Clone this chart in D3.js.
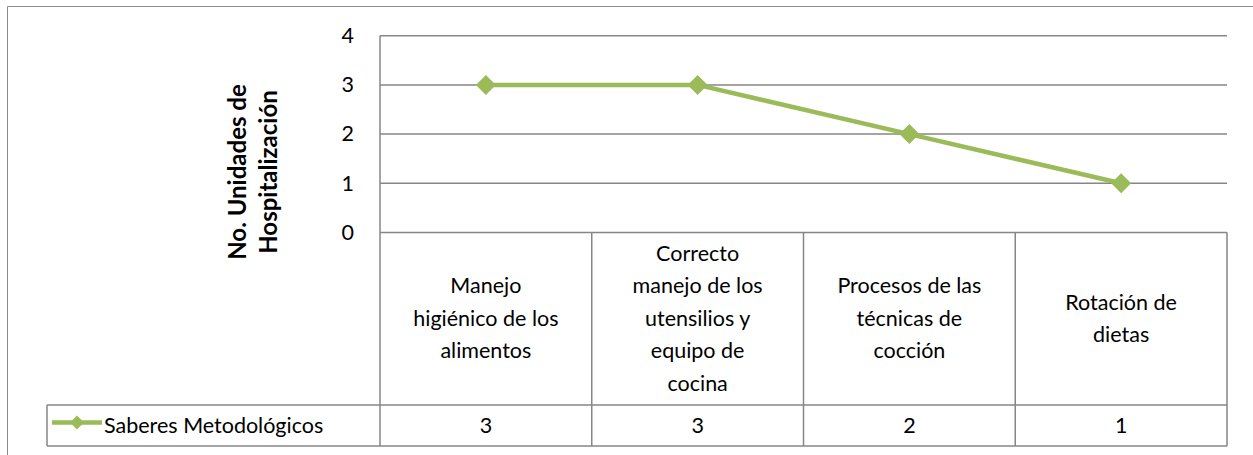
<!DOCTYPE html>
<html>
<head>
<meta charset="utf-8">
<script src="https://cdn.jsdelivr.net/npm/d3@7"></script>
<style>
body { margin: 0; background: #fff; }
text { font-family: Lato, "Open Sans", sans-serif; fill: #000; }
</style>
</head>
<body>
<script>
var width = 1253, height = 455;

// data
var categories = ['Manejo\nhigiénico de los\nalimentos',
                  'Correcto\nmanejo de los\nutensilios y\nequipo de\ncocina',
                  'Procesos de las\ntécnicas de\ncocción',
                  'Rotación de\ndietas'];
var values = [3, 3, 2, 1];
var seriesName = 'Saberes Metodológicos';
var yTicks = [0, 1, 2, 3, 4];
var yTitle = ['No. Unidades de', 'Hospitalización'];

var plot_left = 380, plot_right = 1227, plot_top = 35.7, plot_bottom = 232.5;
var row_top = 405, row_bottom = 446, legend_left = 47;
var grid_color = '#868686', line_color = '#9BBB59';
var fs = 21.5;

var svg = d3.select('body').append('svg').attr('width', width).attr('height', height);

// outer chart border
svg.append('path')
	.attr('d', 'M7.5,' + height + 'V6.5H' + width)
	.attr('fill', 'none').attr('stroke', '#8a8a8a').attr('stroke-width', 1);

var xScale = d3.scaleBand().domain(d3.range(categories.length)).range([plot_left, plot_right]).padding(0);
var yScale = d3.scaleLinear().domain([0, 4]).range([plot_bottom, plot_top]);

// gridlines
svg.append('g').attr('class', 'grid')
	.selectAll('line').data(yTicks.filter(d => d > 0))
	.enter().append('line')
	.attr('x1', plot_left).attr('x2', plot_right)
	.attr('y1', d => yScale(d)).attr('y2', d => yScale(d))
	.attr('stroke', grid_color).attr('stroke-width', 1.5);

// y axis
var yAxis = svg.append('g')
	.attr('transform', 'translate(' + plot_left + ',0)')
	.call(d3.axisLeft(yScale).tickValues(yTicks).tickFormat(d3.format('d')).tickSize(0).tickPadding(26));
yAxis.select('.domain').remove();
yAxis.selectAll('text').style('font-size', fs + 'px').style('font-family', 'Lato, sans-serif').attr('fill', '#000');

// y title
svg.append('g').selectAll('text').data(yTitle)
	.enter().append('text')
	.attr('transform', (d, i) => 'translate(' + (246 + i * 31) + ',172) rotate(-90)')
	.attr('text-anchor', 'middle')
	.style('font-size', '24px').style('font-weight', 'bold')
	.text(d => d);

// data table lines
var tbl = svg.append('g').attr('class', 'table')
	.attr('stroke', grid_color).attr('stroke-width', 1.5);
tbl.append('line').attr('x1', plot_left).attr('x2', plot_right).attr('y1', yScale(0)).attr('y2', yScale(0));
tbl.append('line').attr('x1', legend_left).attr('x2', plot_right).attr('y1', row_top).attr('y2', row_top);
tbl.append('line').attr('x1', legend_left).attr('x2', plot_right).attr('y1', row_bottom).attr('y2', row_bottom);
tbl.append('line').attr('x1', legend_left).attr('x2', legend_left).attr('y1', row_top).attr('y2', row_bottom);
tbl.append('line').attr('x1', plot_left).attr('x2', plot_left).attr('y1', plot_top).attr('y2', row_bottom);
tbl.selectAll('.sep').data(d3.range(1, categories.length + 1))
	.enter().append('line').attr('class', 'sep')
	.attr('x1', d => plot_left + d * xScale.bandwidth()).attr('x2', d => plot_left + d * xScale.bandwidth())
	.attr('y1', yScale(0)).attr('y2', row_bottom);

// category labels
var cell_mid = (yScale(0) + row_top) / 2, lh = 32.5;
svg.append('g').selectAll('text').data(categories)
	.enter().append('text')
	.attr('text-anchor', 'middle')
	.style('font-size', fs + 'px')
	.each(function(d, i) {
		var lines = d.split('\n');
		var cx = xScale(i) + xScale.bandwidth() / 2;
		d3.select(this).selectAll('tspan').data(lines)
			.enter().append('tspan')
			.attr('x', cx)
			.attr('y', (l, j) => cell_mid + 7 + (j - (lines.length - 1) / 2) * lh)
			.text(l => l);
	});

// value row
svg.append('g').selectAll('text').data(values)
	.enter().append('text')
	.attr('x', (d, i) => xScale(i) + xScale.bandwidth() / 2)
	.attr('y', (row_top + row_bottom) / 2 + 7)
	.attr('text-anchor', 'middle')
	.style('font-size', fs + 'px')
	.text(d => d);

// legend key
var diamond = function(size) { return d3.symbol(d3.symbolSquare, size)(); };
var ly = (row_top + row_bottom) / 2 - 3;
svg.append('line').attr('x1', 52).attr('x2', 102).attr('y1', ly).attr('y2', ly)
	.attr('stroke', line_color).attr('stroke-width', 4.5);
svg.append('path').attr('d', diamond(98))
	.attr('transform', 'translate(77,' + ly + ') rotate(45)').attr('fill', line_color);
svg.append('text').attr('x', 104).attr('y', (row_top + row_bottom) / 2 + 7)
	.style('font-size', fs + 'px').text(seriesName);

// series line
var line = d3.line().x((d, i) => xScale(i) + xScale.bandwidth() / 2).y(d => yScale(d));
svg.append('path').datum(values)
	.attr('d', line).attr('fill', 'none')
	.attr('stroke', line_color).attr('stroke-width', 4.5).attr('stroke-linejoin', 'round');
svg.append('g').selectAll('path').data(values)
	.enter().append('path')
	.attr('d', diamond(200))
	.attr('transform', (d, i) => 'translate(' + (xScale(i) + xScale.bandwidth() / 2) + ',' + yScale(d) + ') rotate(45)')
	.attr('fill', line_color);
</script>
</body>
</html>
